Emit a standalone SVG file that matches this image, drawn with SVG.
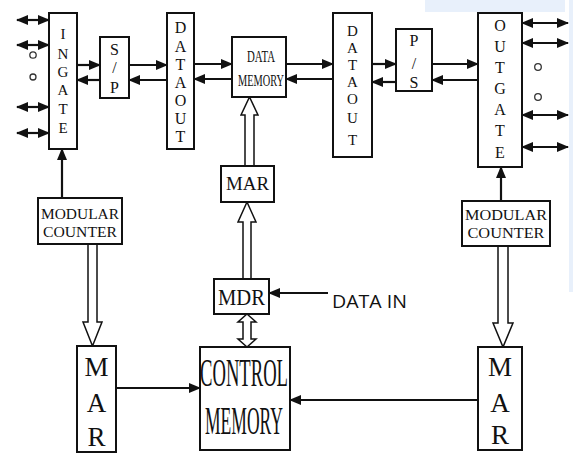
<svg xmlns="http://www.w3.org/2000/svg" width="573" height="453" viewBox="0 0 573 453">
<style>
.box{fill:#fff;stroke:#111;stroke-width:2}
.t{font-family:"Liberation Serif","Times New Roman",serif;fill:#111;text-anchor:middle}
.c{stroke:#111;stroke-width:2.2;fill:none}
.thin{stroke:#111;stroke-width:1.8;fill:none}
.hollow{fill:#fff;stroke:#111;stroke-width:1.5;stroke-linejoin:miter}
</style>
<defs>
<marker id="ah" markerUnits="userSpaceOnUse" markerWidth="12" markerHeight="10" refX="11" refY="5" orient="auto-start-reverse">
<path d="M0,0 L12,5 L0,10 z" fill="#111"/>
</marker>
</defs>
<rect x="0" y="0" width="573" height="453" fill="#fff"/>
<rect x="425" y="0" width="140" height="12" fill="#e8f0fb"/>
<rect x="569" y="0" width="4" height="292" fill="#e8f0fb"/>

<g id="connectors">
<line class="c" x1="17" y1="20" x2="49" y2="20" marker-start="url(#ah)" marker-end="url(#ah)"/>
<line class="c" x1="17" y1="45" x2="49" y2="45" marker-start="url(#ah)" marker-end="url(#ah)"/>
<line class="c" x1="17" y1="107" x2="49" y2="107" marker-start="url(#ah)" marker-end="url(#ah)"/>
<line class="c" x1="17" y1="133" x2="49" y2="133" marker-start="url(#ah)" marker-end="url(#ah)"/>
<line class="c" x1="77" y1="65" x2="100" y2="65" marker-end="url(#ah)"/>
<line class="c" x1="100" y1="80" x2="77" y2="80" marker-end="url(#ah)"/>
<line class="c" x1="129" y1="65" x2="167" y2="65" marker-end="url(#ah)"/>
<line class="c" x1="167" y1="80" x2="129" y2="80" marker-end="url(#ah)"/>
<line class="c" x1="194" y1="64" x2="232" y2="64" marker-end="url(#ah)"/>
<line class="c" x1="232" y1="79" x2="194" y2="79" marker-end="url(#ah)"/>
<line class="c" x1="286" y1="64" x2="333" y2="64" marker-end="url(#ah)"/>
<line class="c" x1="333" y1="79" x2="286" y2="79" marker-end="url(#ah)"/>
<line class="c" x1="372" y1="64" x2="396" y2="64" marker-end="url(#ah)"/>
<line class="c" x1="396" y1="82" x2="372" y2="82" marker-end="url(#ah)"/>
<line class="c" x1="432" y1="64" x2="478" y2="64" marker-end="url(#ah)"/>
<line class="c" x1="478" y1="80" x2="432" y2="80" marker-end="url(#ah)"/>
<line class="c" x1="522" y1="23" x2="568" y2="23" marker-start="url(#ah)" marker-end="url(#ah)"/>
<line class="c" x1="522" y1="43" x2="568" y2="43" marker-start="url(#ah)" marker-end="url(#ah)"/>
<line class="c" x1="522" y1="115" x2="568" y2="115" marker-start="url(#ah)" marker-end="url(#ah)"/>
<line class="c" x1="522" y1="147" x2="568" y2="147" marker-start="url(#ah)" marker-end="url(#ah)"/>
<line class="c" x1="62" y1="198" x2="62" y2="149" marker-end="url(#ah)"/>
<line class="c" x1="501" y1="201" x2="501" y2="167" marker-end="url(#ah)"/>
<polygon class="hollow" points="88,244 97,244 97,322 102,322 92.5,346 83,322 88,322"/>
<polygon class="hollow" points="498,246 508,246 508,323 513,323 503,347 493,323 498,323"/>
<polygon class="hollow" points="245,166 254,166 254,115 258,115 249.5,97 241,115 245,115"/>
<polygon class="hollow" points="243,279 251,279 251,222 256,222 247,202 238,222 243,222"/>
<polygon class="hollow" points="247,314 256,322 251,322 251,339 256,339 247,347 238,339 243,339 243,322 238,322"/>
<line class="thin" x1="328" y1="293" x2="269" y2="293" marker-end="url(#ah)"/>
<line class="thin" x1="116" y1="388" x2="200" y2="388" marker-end="url(#ah)"/>
<line class="thin" x1="478" y1="400" x2="290" y2="400" marker-end="url(#ah)"/>
</g>

<g id="ingate">
<rect class="box" x="49" y="13" width="28" height="136"/>
<text class="t" font-size="15" x="63" y="39">I</text>
<text class="t" font-size="15" x="63" y="59">N</text>
<text class="t" font-size="15" x="63" y="77">G</text>
<text class="t" font-size="15" x="63" y="95">A</text>
<text class="t" font-size="15" x="63" y="114">T</text>
<text class="t" font-size="15" x="63" y="133">E</text>
</g>
<g id="in-dots">
<circle cx="33" cy="55" r="3.2" fill="none" stroke="#333" stroke-width="1.3"/>
<circle cx="33" cy="77" r="3" fill="none" stroke="#333" stroke-width="1.3"/>
</g>

<g id="sp">
<rect class="box" x="100" y="37" width="29" height="61"/>
<text class="t" font-size="16" x="114.5" y="55">S</text>
<text class="t" font-size="16" x="114.5" y="73">/</text>
<text class="t" font-size="16" x="114.5" y="93">P</text>
</g>

<g id="dataout1">
<rect class="box" x="167" y="13" width="27" height="136"/>
<text class="t" font-size="16" x="180.5" y="33">D</text>
<text class="t" font-size="16" x="180.5" y="52">A</text>
<text class="t" font-size="16" x="180.5" y="70">T</text>
<text class="t" font-size="16" x="180.5" y="88">A</text>
<text class="t" font-size="16" x="180.5" y="106">O</text>
<text class="t" font-size="16" x="180.5" y="124">U</text>
<text class="t" font-size="16" x="180.5" y="142">T</text>
</g>

<g id="datamemory">
<rect class="box" x="232" y="37" width="54" height="60"/>
<text class="t" font-size="17" x="261" y="62" textLength="28" lengthAdjust="spacingAndGlyphs">DATA</text>
<text class="t" font-size="17" x="261" y="86" textLength="46" lengthAdjust="spacingAndGlyphs">MEMORY</text>
</g>

<g id="dataout2">
<rect class="box" x="333" y="13" width="39" height="144"/>
<text class="t" font-size="15" x="352.5" y="36">D</text>
<text class="t" font-size="15" x="352.5" y="53">A</text>
<text class="t" font-size="15" x="352.5" y="70">T</text>
<text class="t" font-size="15" x="352.5" y="87">A</text>
<text class="t" font-size="15" x="352.5" y="104">O</text>
<text class="t" font-size="15" x="352.5" y="123">U</text>
<text class="t" font-size="15" x="352.5" y="145">T</text>
</g>

<g id="ps">
<rect class="box" x="396" y="29" width="36" height="62"/>
<text class="t" font-size="16" x="414" y="46">P</text>
<text class="t" font-size="16" x="414" y="69">/</text>
<text class="t" font-size="16" x="414" y="88">S</text>
</g>

<g id="outgate">
<rect class="box" x="478" y="13" width="44" height="154"/>
<text class="t" font-size="16" x="500" y="31">O</text>
<text class="t" font-size="16" x="500" y="52">U</text>
<text class="t" font-size="16" x="500" y="73">T</text>
<text class="t" font-size="16" x="500" y="94">G</text>
<text class="t" font-size="16" x="500" y="115">A</text>
<text class="t" font-size="16" x="500" y="136">T</text>
<text class="t" font-size="16" x="500" y="158">E</text>
</g>
<g id="out-dots">
<circle cx="538" cy="67" r="3.3" fill="none" stroke="#333" stroke-width="1.3"/>
<circle cx="538" cy="97" r="3.3" fill="none" stroke="#333" stroke-width="1.3"/>
</g>

<g id="mar-top">
<rect class="box" x="221" y="166" width="53" height="36"/>
<text class="t" font-size="18" x="247.5" y="190" textLength="43" lengthAdjust="spacingAndGlyphs">MAR</text>
</g>

<g id="mdr">
<rect class="box" x="214" y="279" width="55" height="35"/>
<text class="t" font-size="24" x="241.5" y="305" textLength="47" lengthAdjust="spacingAndGlyphs">MDR</text>
</g>
<text font-family="'Open Sans','Liberation Sans',sans-serif" font-size="18" fill="#111" x="332" y="308" textLength="75" lengthAdjust="spacingAndGlyphs">DATA IN</text>

<g id="modcounter-left">
<rect class="box" x="38" y="198" width="84" height="46"/>
<text class="t" font-size="14" x="80" y="219" textLength="78" lengthAdjust="spacingAndGlyphs">MODULAR</text>
<text class="t" font-size="14" x="80" y="237" textLength="74" lengthAdjust="spacingAndGlyphs">COUNTER</text>
</g>

<g id="modcounter-right">
<rect class="box" x="462" y="201" width="88" height="45"/>
<text class="t" font-size="14" x="506" y="220" textLength="82" lengthAdjust="spacingAndGlyphs">MODULAR</text>
<text class="t" font-size="14" x="506" y="238" textLength="77" lengthAdjust="spacingAndGlyphs">COUNTER</text>
</g>

<g id="mar-left">
<rect class="box" x="77" y="346" width="39" height="106"/>
<text class="t" font-size="27" x="96.5" y="376">M</text>
<text class="t" font-size="27" x="96.5" y="412">A</text>
<text class="t" font-size="27" x="96.5" y="446">R</text>
</g>

<g id="mar-right">
<rect class="box" x="478" y="347" width="44" height="103"/>
<text class="t" font-size="27" x="500" y="376">M</text>
<text class="t" font-size="27" x="500" y="412">A</text>
<text class="t" font-size="27" x="500" y="444">R</text>
</g>

<g id="controlmemory">
<rect class="box" x="200" y="347" width="90" height="103"/>
<text class="t" font-size="40" x="244" y="386" textLength="88" lengthAdjust="spacingAndGlyphs">CONTROL</text>
<text class="t" font-size="40" x="244" y="434" textLength="78" lengthAdjust="spacingAndGlyphs">MEMORY</text>
</g>
</svg>
